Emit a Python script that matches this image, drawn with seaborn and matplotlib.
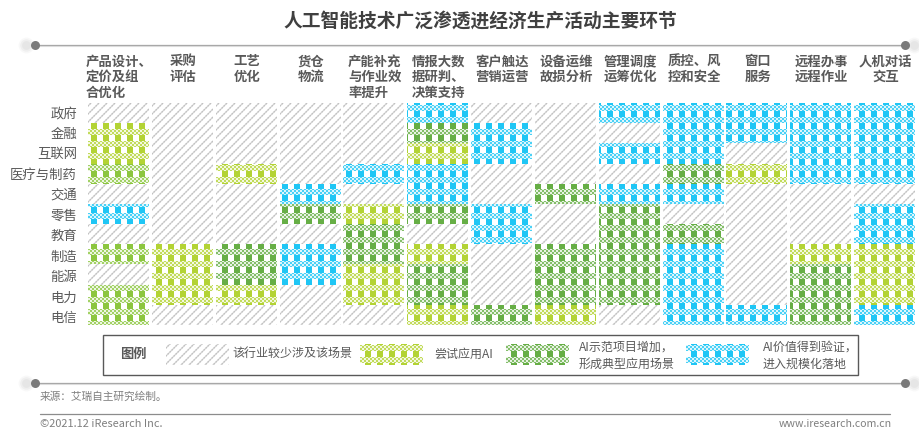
import numpy as np
import pandas as pd
import matplotlib
matplotlib.use("Agg")
import matplotlib.pyplot as plt
from matplotlib.colors import ListedColormap
from matplotlib.patches import Rectangle
from matplotlib.transforms import ScaledTranslation
import seaborn as sns

# 0 not involved, 1 trying, 2 trying/demo in between, 3 demo projects, 4 at scale
industries = ['政府', '金融', '互联网', '医疗与制药', '交通', '零售', '教育', '制造', '能源', '电力', '电信']
stages = ['产品设计、\n定价及组\n合优化', '采购\n评估', '工艺\n优化', '货仓\n物流', '产能补充\n与作业效\n率提升',
          '情报大数\n据研判、\n决策支持', '客户触达\n营销运营', '设备运维\n故损分析', '管理调度\n运筹优化',
          '质控、风\n控和安全', '窗口\n服务', '远程办事\n远程作业', '人机对话\n交互']
product_design = [0, 1, 1, 2, 0, 4, 0, 2, 0, 2, 2]
purchasing = [0, 0, 0, 0, 0, 0, 0, 1, 1, 1, 0]
process = [0, 0, 0, 1, 0, 0, 0, 3, 3, 1, 0]
warehouse = [0, 0, 0, 0, 4, 3, 0, 4, 4, 0, 0]
capacity = [0, 0, 0, 4, 0, 1, 3, 3, 1, 1, 0]
intelligence = [4, 3, 1, 4, 4, 3, 0, 1, 3, 3, 1]
customer = [0, 4, 4, 0, 0, 4, 4, 0, 0, 0, 3]
maintenance = [0, 0, 0, 0, 3, 0, 0, 3, 3, 3, 1]
scheduling = [4, 0, 4, 0, 4, 3, 3, 3, 3, 3, 0]
quality = [4, 4, 4, 3, 4, 0, 3, 4, 4, 4, 4]
counter = [4, 4, 0, 1, 0, 0, 0, 0, 0, 0, 4]
remote = [4, 4, 4, 4, 0, 0, 0, 1, 3, 3, 3]
dialogue = [4, 4, 4, 4, 0, 4, 4, 1, 1, 1, 4]

colors = ['#b8b8b8', '#b3d334', '#8cc63f', '#66ae45', '#1fc6f5']
cmap = ListedColormap(colors)
stripe_phase = [3, 4, 6, 2, 3, 7, 3, 0, 8, 4, 0, 9, 5]

W, H = 920, 434
L, R, T, B = 86, 916, 103, 325


def pattern_alpha(xs, ys, level, phase):
    # white veil on top of the solid heatmap colour, 0 lets the colour through
    X, Y = np.meshgrid(xs, ys)
    if level == 0:
        d = (X + Y) % 8
        dash = (X - Y) // 2 % 2 == 0
        alpha = np.ones(X.shape)
        alpha[d == 0] = 0.55
        alpha[d == 1] = 0.15
        alpha[d == 2] = 0.55
        alpha[(d < 3) & dash] += 0.2
        return alpha
    alpha = np.ones(X.shape)
    alpha[(X - xs[0] - phase) % 12 < 6] = 0.0
    band = (Y - 249) % 12 < 6
    check = (X // 2 + Y // 2) % 2 == 0
    alpha[band & check] = 0.2
    alpha[band & ~check] = 0.85
    return alpha


def add_axes_px(x0, y0, x1, y1):
    return fig.add_axes([x0 / W, 1 - y1 / H, (x1 - x0) / W, (y1 - y0) / H])


def veil_image(ax, alpha, extent):
    rgba = np.ones(alpha.shape + (4,))
    rgba[..., 3] = alpha
    ax.imshow(rgba, extent=extent, aspect='auto', interpolation='nearest', zorder=3)
    ax.set_xlim(extent[0], extent[1])
    ax.set_ylim(extent[2], extent[3])


sns.set_theme(style="white")
plt.rcParams['font.family'] = ['Noto Sans CJK SC', 'DejaVu Sans']
fig = plt.figure(figsize=(W / 100, H / 100), dpi=100)

# page furniture in pixel coordinates
page = fig.add_axes([0, 0, 1, 1])
page.set_xlim(0, W)
page.set_ylim(H, 0)
page.axis('off')
for y in [44.5, 382.5]:
    page.plot([35, 905], [y + 1, y + 1], color='#e4e4e4', lw=1.5, zorder=1)
    page.plot([35, 905], [y, y], color='#a8a8a8', lw=0.9, zorder=2)
    for x, bx in [(35.5, 26), (905, 914)]:
        for s, a in [(130, 0.05), (80, 0.07), (40, 0.08)]:
            page.scatter([bx], [y], s=s, color='#808080', alpha=a, lw=0, zorder=1)
        page.scatter([x], [y], s=42, color='#7a7a7a', lw=0, zorder=3)
page.plot([40, 890], [413.5, 413.5], color='#8c8c8c', lw=0.9)
page.add_patch(Rectangle((103.5, 334.5), 754.5, 40, fill=False, ec='#595959', lw=1.0))

page.text(480.5, 21, '人工智能技术广泛渗透进经济生产活动主要环节', ha='center', va='center',
          fontsize=13.5, fontweight='bold', color='#404040')
page.text(133.5, 354, '图例', ha='center', va='center', fontsize=9.5, fontweight='bold', color='#595959')
legend_font = dict(va='center', fontsize=8.65, color='#595959')
page.text(232, 353, '该行业较少涉及该场景', **legend_font)
page.text(434, 354, '尝试应用AI', **legend_font)
page.text(579, 347, 'AI示范项目增加，', **legend_font)
page.text(579, 364, '形成典型应用场景', **legend_font)
page.text(763, 347, 'AI价值得到验证，', **legend_font)
page.text(763, 364, '进入规模化落地', **legend_font)
page.text(40, 397, '来源：艾瑞自主研究绘制。', va='center', fontsize=7.7, color='#7f7f7f')
page.text(40, 424, '©2021.12 iResearch Inc.', va='center', fontsize=7.9, color='#7f7f7f')
page.text(892, 424, 'www.iresearch.com.cn', va='center', ha='right', fontsize=7.6, color='#7f7f7f')

# main grid
levels = pd.DataFrame({'产品': product_design, '采购': purchasing, '工艺': process, '货仓': warehouse,
                       '产能': capacity, '情报': intelligence, '客户': customer, '设备': maintenance,
                       '管理': scheduling, '质控': quality, '窗口': counter, '远程': remote, '人机': dialogue},
                      index=industries)
ax = add_axes_px(L, T, R, B)
ax.patch.set_alpha(0)
sns.heatmap(levels, ax=ax, cmap=cmap, vmin=-0.5, vmax=4.5, cbar=False,
            xticklabels=stages, yticklabels=industries)

alpha = np.ones((B - T, R - L))
pitch_x = (R - L) / len(stages)
pitch_y = (B - T) / len(industries)
for c in range(len(stages)):
    x0 = int(round(L + c * pitch_x + 2))
    xs = np.arange(x0, x0 + 61)
    for r in range(len(industries)):
        y0 = int(round(T + r * pitch_y))
        y1 = int(round(T + (r + 1) * pitch_y))
        ys = np.arange(y0, y1)
        alpha[y0 - T:y1 - T, x0 - L:x0 - L + 61] = pattern_alpha(xs, ys, levels.iloc[r, c], stripe_phase[c])
veil_image(ax, alpha, (0, len(stages), len(industries), 0))

ax.xaxis.tick_top()
ax.tick_params(axis='both', length=0)
ax.tick_params(axis='x', pad=35)
ax.tick_params(axis='y', pad=6.5)
for lab, align in zip(ax.get_xticklabels(), ['left', 'center', 'center', 'center', 'left', 'left', 'center',
                                             'center', 'center', 'left', 'center', 'center', 'center']):
    lab.set(rotation=0, va='top', ha='center', multialignment=align, fontsize=9.6,
            fontweight='bold', color='#595959', linespacing=1.15)
    lab.set_transform(lab.get_transform() + ScaledTranslation(1.5 / 100, 0, fig.dpi_scale_trans))
# the row labels sit a little wider apart than the rows
for i, lab in enumerate(ax.get_yticklabels()):
    lab.set(rotation=0, fontsize=9.6, color='#595959', va='center')
    lab.set_transform(lab.get_transform() + ScaledTranslation(0, -i * 0.3 / 100, fig.dpi_scale_trans))
for side in ax.spines.values():
    side.set_visible(False)

# legend swatches
for x0, level in [(166, 0), (360, 1), (506, 3), (686, 4)]:
    sw = add_axes_px(x0, 344, x0 + 63, 365)
    sns.heatmap(pd.DataFrame([[level]]), ax=sw, cmap=cmap, vmin=-0.5, vmax=4.5, cbar=False,
                xticklabels=False, yticklabels=False)
    veil_image(sw, pattern_alpha(np.arange(x0, x0 + 63), np.arange(344, 365), level, 5), (0, 1, 1, 0))

plt.savefig('out.png', dpi=100)
